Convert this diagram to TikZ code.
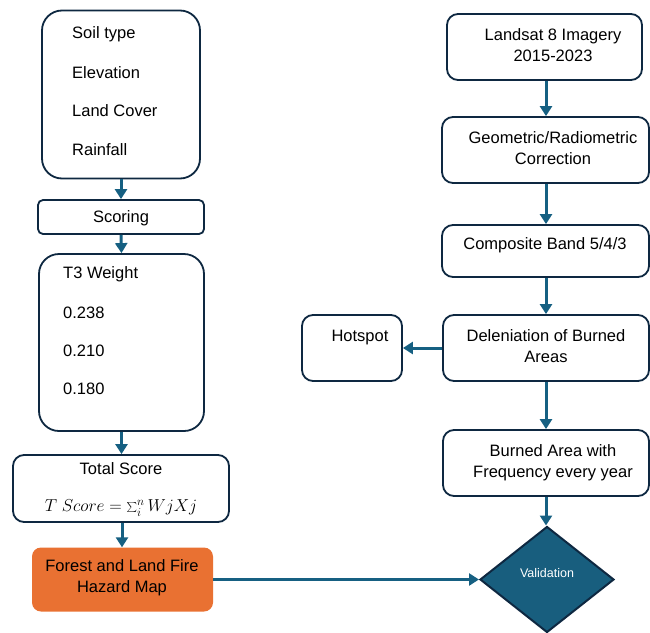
\documentclass[tikz,border=0pt]{standalone}
\usepackage{fontspec}
\setmainfont{Liberation Sans}
\usetikzlibrary{shapes.geometric,arrows.meta}
\definecolor{boxc}{RGB}{14,40,65}
\definecolor{arrc}{RGB}{22,96,130}
\definecolor{orangec}{RGB}{233,113,50}
\definecolor{diamc}{RGB}{24,94,126}
\tikzset{
  box/.style={draw=boxc, line width=1.8pt, fill=white, inner sep=0pt, rectangle},
  bigr/.style={box, rounded corners=20pt},
  midr/.style={box, rounded corners=11pt},
  smr/.style={box, rounded corners=5pt},
  txt/.style={inner sep=0pt, font=\fontsize{16.5}{20}\selectfont},
  ltxt/.style={txt, anchor=west},
  ctxt/.style={txt, align=center},
  flow/.style={draw=arrc, line width=3pt, -{Triangle[width=12pt,length=10pt]}},
}
\begin{document}
\begin{tikzpicture}[x=1pt,y=-1pt]
\useasboundingbox (0,0) rectangle (650,632);
\begin{scope}
\clip (0,0) rectangle (650,632);
% left column
\node[bigr, minimum width=158pt, minimum height=168pt] (inputs) at (121,94.5) {};
\node[ltxt] (soil) at (72,34) {Soil type};
\node[ltxt] (elev) at (72,73) {Elevation};
\node[ltxt] (lc) at (72,111) {Land Cover};
\node[ltxt] (rain) at (72,150) {Rainfall};

\node[smr, minimum width=166pt, minimum height=34pt] (scoring) at (121,217) {};
\node[ctxt] (scoringt) at (121,218) {Scoring};

\node[bigr, minimum width=165pt, minimum height=177pt] (weight) at (121.5,342.5) {};
\node[ltxt] (t3) at (63,274) {T3 Weight};
\node[ltxt] (w1) at (63,313) {0.238};
\node[ltxt] (w2) at (63,351) {0.210};
\node[ltxt] (w3) at (63,389) {0.180};

\node[midr, minimum width=216pt, minimum height=67pt] (total) at (121,488.5) {};
\node[ctxt] (totalt) at (121,469) {Total Score};
\node[inner sep=0pt, font=\fontsize{17}{20}\selectfont] (formula) at (121,508) {$T\ Score = \sum_i^n WjXj$};

\node[rectangle, rounded corners=9pt, fill=orangec, inner sep=0pt, minimum width=181pt, minimum height=64pt] (hazard) at (122.5,579.5) {};
\node[ctxt] (hazardt) at (122,577.5) {Forest and Land Fire\\[1pt]Hazard Map};

% right column
\node[midr, minimum width=195pt, minimum height=66pt] (landsat) at (544.5,47) {};
\node[ctxt] (landsatt) at (553,45) {Landsat 8 Imagery\\[1pt]2015-2023};

\node[midr, minimum width=207pt, minimum height=66pt] (geo) at (545.5,150) {};
\node[ctxt] (geot) at (553,148.5) {Geometric/Radiometric\\[1pt]Correction};

\node[midr, minimum width=207pt, minimum height=52pt] (comp) at (545.5,251) {};
\node[ctxt] (compt) at (545,245) {Composite Band 5/4/3};

\node[midr, minimum width=206pt, minimum height=66pt] (delin) at (546,348) {};
\node[ctxt] (delint) at (546,346) {Deleniation of Burned\\[1pt]Areas};

\node[midr, minimum width=100pt, minimum height=66pt] (hot) at (352,348) {};
\node[ctxt] (hott) at (360,338) {Hotspot};

\node[midr, minimum width=206pt, minimum height=66pt] (burn) at (546,463) {};
\node[ctxt] (burnt) at (553,462.5) {Burned Area with\\[1pt]Frequency every year};

\node[diamond, draw=boxc, line width=2pt, fill=diamc, inner sep=0pt, minimum width=134pt, minimum height=106pt, aspect=1.26] (valid) at (547,579.5) {};
\node[inner sep=0pt, text=white, font=\fontsize{12.5}{15}\selectfont] (validt) at (547,573) {Validation};

% connectors
\draw[flow] (inputs.south) -- (scoring.north);
\draw[flow] (scoring.south) -- (weight.north);
\draw[flow] (weight.south -| 121.5,0) -- (total.north -| 121.5,0);
\draw[flow] (total.south -| 122,0) -- (hazard.north -| 122,0);
\draw[flow] (hazard.east) -- (valid.west);
\draw[flow] (landsat.south -| 546,0) -- (geo.north -| 546,0);
\draw[flow] (geo.south -| 546,0) -- (comp.north -| 546,0);
\draw[flow] (comp.south -| 546,0) -- (delin.north -| 546,0);
\draw[flow] (delin.west) -- (hot.east);
\draw[flow] (delin.south) -- (burn.north);
\draw[flow] (burn.south -| 546,0) -- (valid.north -| 546,0);
\end{scope}
\end{tikzpicture}
\end{document}
